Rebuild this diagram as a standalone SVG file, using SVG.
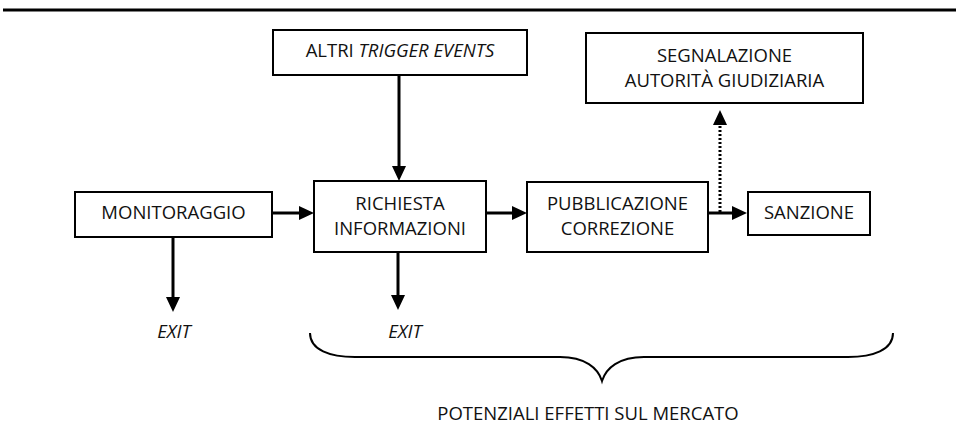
<svg xmlns="http://www.w3.org/2000/svg" width="956" height="443" viewBox="0 0 956 443">
  <style>
    .box { fill: #ffffff; stroke: #000000; stroke-width: 2; }
    .t { font-family: "Open Sans", "Noto Sans", "DejaVu Sans", sans-serif; font-size: 18.5px; fill: #111111; text-anchor: middle; }
    .i { font-style: italic; }
    .c { stroke: #000000; stroke-width: 3; fill: none; }
    .dot { stroke-dasharray: 2 2; }
    .brace { stroke: #000000; stroke-width: 2; fill: none; }
  </style>
  <defs>
    <marker id="ah" markerUnits="userSpaceOnUse" markerWidth="16" markerHeight="16" refX="0" refY="7" orient="auto">
      <path d="M0,0 L15,7 L0,14 z" fill="#000000"/>
    </marker>
  </defs>
  <rect width="956" height="443" fill="#ffffff"/>
  <line x1="3" y1="10" x2="956" y2="10" stroke="#000000" stroke-width="3"/>

  <g id="connectors">
    <line class="c" x1="399" y1="75" x2="399" y2="166" marker-end="url(#ah)"/>
    <line class="c" x1="272" y1="213" x2="299" y2="213" marker-end="url(#ah)"/>
    <line class="c" x1="486" y1="213" x2="512" y2="213" marker-end="url(#ah)"/>
    <line class="c" x1="708" y1="213" x2="732" y2="213" marker-end="url(#ah)"/>
    <line class="c dot" x1="720" y1="212" x2="720" y2="125" marker-end="url(#ah)"/>
    <line class="c" x1="173" y1="237" x2="173" y2="297" marker-end="url(#ah)"/>
    <line class="c" x1="398" y1="252" x2="398" y2="295" marker-end="url(#ah)"/>
  </g>

  <g id="altri">
    <rect class="box" x="273" y="30" width="254" height="45"/>
    <text class="t" x="400" y="57">ALTRI <tspan class="i">TRIGGER EVENTS</tspan></text>
  </g>
  <g id="segnalazione">
    <rect class="box" x="586" y="33" width="277" height="70"/>
    <text class="t" x="724.5" y="62">SEGNALAZIONE</text>
    <text class="t" x="724.5" y="87">AUTORITÀ GIUDIZIARIA</text>
  </g>
  <g id="monitoraggio">
    <rect class="box" x="75" y="192" width="197" height="45"/>
    <text class="t" x="173.5" y="219">MONITORAGGIO</text>
  </g>
  <g id="richiesta">
    <rect class="box" x="314" y="181" width="172" height="71"/>
    <text class="t" x="400" y="210">RICHIESTA</text>
    <text class="t" x="400" y="235">INFORMAZIONI</text>
  </g>
  <g id="pubblicazione">
    <rect class="box" x="527" y="182" width="181" height="70"/>
    <text class="t" x="617.5" y="210">PUBBLICAZIONE</text>
    <text class="t" x="617.5" y="235">CORREZIONE</text>
  </g>
  <g id="sanzione">
    <rect class="box" x="748" y="192" width="122" height="43"/>
    <text class="t" x="809" y="219">SANZIONE</text>
  </g>
  <g id="exit1">
    <text class="t i" x="174" y="338">EXIT</text>
  </g>
  <g id="exit2">
    <text class="t i" x="405" y="338">EXIT</text>
  </g>
  <g id="effetti">
    <path class="brace" d="M310,333 C310,350 330,357 355,357 L560,357 C585,357 598,368 602,381 C606,368 619,357 644,357 L848,357 C873,357 893,350 893,333"/>
    <text class="t" x="588" y="420">POTENZIALI EFFETTI SUL MERCATO</text>
  </g>
</svg>
